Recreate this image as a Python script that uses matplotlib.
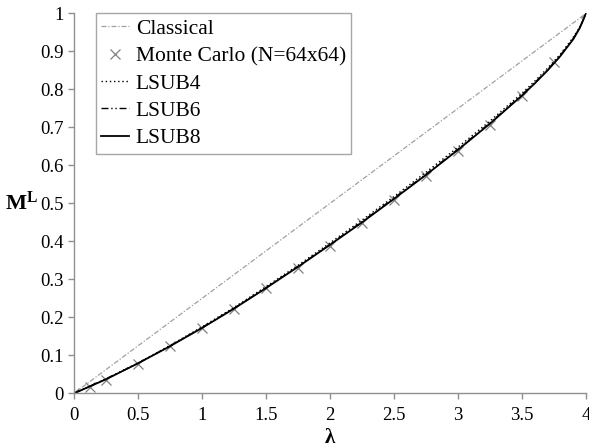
import matplotlib
matplotlib.use("Agg")
import matplotlib.pyplot as plt
from matplotlib.font_manager import FontProperties

plt.rcParams['font.family'] = 'serif'
plt.rcParams['font.serif'] = ['Liberation Serif', 'DejaVu Serif']
plt.rcParams['mathtext.fontset'] = 'custom'
plt.rcParams['mathtext.rm'] = 'Liberation Serif'
plt.rcParams['mathtext.bf'] = 'Liberation Serif:bold'
plt.rcParams['mathtext.it'] = 'Liberation Serif:italic'

lam_classical = [0, 4]
m_classical = [0, 1]

lam_mc = [0, 0.125, 0.25, 0.5, 0.75, 1, 1.25, 1.5, 1.75, 2, 2.25, 2.5, 2.75, 3, 3.25, 3.5, 3.75, 4]
m_mc = [0, 0.018, 0.036, 0.077, 0.124, 0.172, 0.223, 0.277, 0.331, 0.389, 0.449, 0.509, 0.572, 0.638, 0.706, 0.783, 0.872, 1.0]

lam_lsub = [0, 0.25, 0.5, 0.75, 1, 1.25, 1.5, 1.75, 2, 2.25, 2.5, 2.75, 3, 3.25, 3.5, 3.6, 3.7, 3.8, 3.9, 3.95, 4]
m_lsub4 = [0, 0.038, 0.080, 0.126, 0.175, 0.226, 0.281, 0.337, 0.396, 0.456, 0.518, 0.582, 0.648, 0.717, 0.790, 0.822, 0.856, 0.893, 0.937, 0.964, 1.0]
m_lsub6 = [0, 0.038, 0.079, 0.125, 0.173, 0.224, 0.278, 0.334, 0.392, 0.452, 0.514, 0.577, 0.643, 0.712, 0.786, 0.818, 0.852, 0.890, 0.934, 0.962, 1.0]
m_lsub8 = [0, 0.037, 0.079, 0.124, 0.172, 0.223, 0.277, 0.333, 0.391, 0.450, 0.512, 0.575, 0.641, 0.710, 0.784, 0.816, 0.850, 0.888, 0.932, 0.961, 1.0]

xtick_vals = [0, 0.5, 1, 1.5, 2, 2.5, 3, 3.5, 4]
xtick_labels = ['0', '0.5', '1', '1.5', '2', '2.5', '3', '3.5', '4']
ytick_vals = [0, 0.1, 0.2, 0.3, 0.4, 0.5, 0.6, 0.7, 0.8, 0.9, 1]
ytick_labels = ['0', '0.1', '0.2', '0.3', '0.4', '0.5', '0.6', '0.7', '0.8', '0.9', '1']

fig = plt.figure(figsize=(5.89, 4.47), dpi=100)
ax = fig.add_axes([0.1256, 0.120, 0.8694, 0.850])

ax.plot(lam_classical, m_classical, color='#a0a0a0', lw=0.9, ls=(0, (4, 1.5, 1, 1.5)), label='Classical')
ax.plot(lam_mc, m_mc, ls='none', marker='x', color='#808080', ms=7, mew=0.9, label='Monte Carlo (N=64x64)')
ax.plot(lam_lsub, m_lsub4, color='black', lw=1.0, ls=(0, (1, 2)), label='LSUB4')
ax.plot(lam_lsub, m_lsub6, color='black', lw=1.0, ls=(0, (5, 2, 1, 2, 1, 2)), label='LSUB6')
ax.plot(lam_lsub, m_lsub8, color='black', lw=1.3, ls='-', label='LSUB8')

ax.set_xlim(0, 4)
ax.set_ylim(0, 1)
ax.set_xticks(xtick_vals)
ax.set_xticklabels(xtick_labels)
ax.set_yticks(ytick_vals)
ax.set_yticklabels(ytick_labels)

for s in ['top', 'right']:
    ax.spines[s].set_visible(False)
for s in ['left', 'bottom']:
    ax.spines[s].set_color('#909090')
    ax.spines[s].set_linewidth(1.0)
ax.tick_params(axis='both', colors='#909090', labelcolor='black', labelsize=13.5, length=4, width=1.0)
ax.tick_params(axis='x', pad=6)

tick_fp = FontProperties(family='Liberation Serif', size=13.5)
for lbl in ax.get_xticklabels() + ax.get_yticklabels():
    lbl.set_fontproperties(tick_fp)

ax.set_xlabel('λ', fontproperties=FontProperties(family='Liberation Serif', weight='bold', size=15), labelpad=3)
ax.set_ylabel(r'$\mathbf{M}^{\mathbf{L}}$', fontsize=16, rotation=0, va='center')
ax.yaxis.set_label_coords(-0.102, 0.5)

leg = ax.legend(loc='upper left', bbox_to_anchor=(0.043, 1.0), frameon=True, fancybox=False,
                prop=FontProperties(family='Liberation Serif', size=15.5),
                edgecolor='#909090', handlelength=1.3, handletextpad=0.3, borderpad=0.25, labelspacing=0.34,
                borderaxespad=0.0)
leg.get_frame().set_linewidth(1.0)

fig.savefig('out.png', dpi=100)
